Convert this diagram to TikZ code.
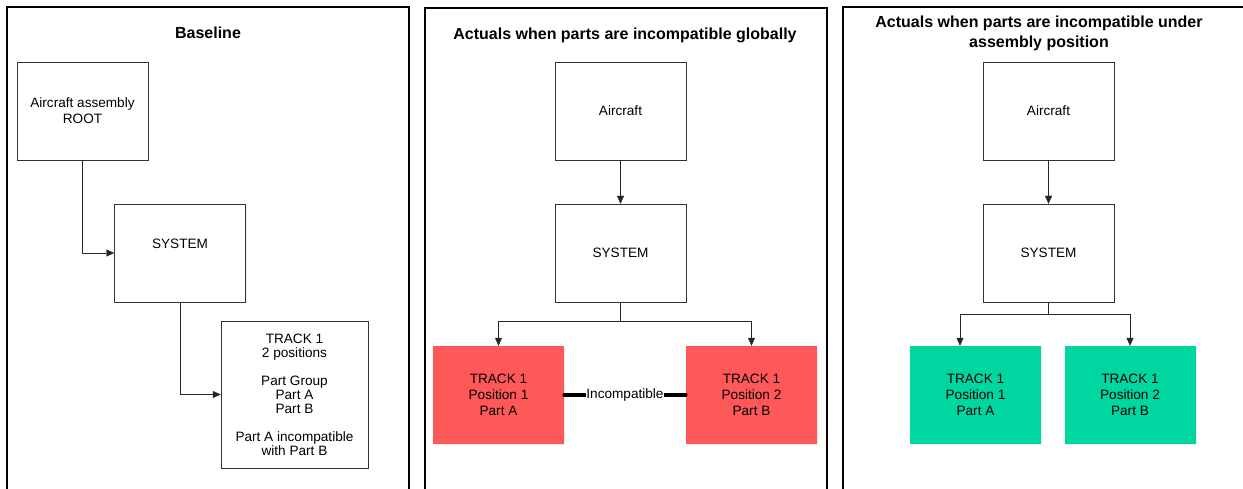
\documentclass[tikz,border=0pt]{standalone}
\usepackage{fontspec}
\setmainfont{Liberation Sans}
\usetikzlibrary{arrows.meta,positioning,calc,shadows}
\definecolor{badred}{RGB}{255,88,88}
\definecolor{goodgreen}{RGB}{0,214,159}
\tikzset{
    panel/.style = {
        draw,
        line width=2pt,
        },
    title/.style = {
        font=\bfseries\fontsize{16}{20}\selectfont,
        align=center,
        },
    box/.style = {
        draw=black!80,
        fill=white,
        minimum width=131pt,
        minimum height=98pt,
        align=center,
        font=\fontsize{13.6}{16}\selectfont,
        drop shadow={shadow xshift=1pt, shadow yshift=-1pt, opacity=0.15},
        },
    bad part/.style = {
        box,
        draw=none,
        fill=badred,
        },
    good part/.style = {
        box,
        draw=none,
        fill=goodgreen,
        },
    link/.style = {
        draw=black!85,
        -{Triangle[length=8pt,width=7pt]},
        },
    incompat/.style = {
        draw,
        line width=3.5pt,
        line cap=round,
        },
}
\begin{document}
\begin{tikzpicture}[x=1pt,y=-1pt]
    \useasboundingbox (0,0) rectangle (1243,489);
    % frames
    \draw[panel] (7,500) |- (409,7.5) -- (409,500);
    \draw[panel] (425,500) |- (827,8) -- (827,500);
    \draw[panel] (843,500) |- (1260,7);

    % baseline
    \node[title] (t1) at (208,33) {Baseline};
    \node[box] (root1) at (82.5,111) {Aircraft assembly\\ROOT};
    \node[box, text depth=18pt] (sys1) at (180,253) {SYSTEM};
    \node[box, minimum width=147pt, minimum height=147pt,
          font=\fontsize{13.6}{14}\selectfont] (track1) at (294.5,394.5)
        {TRACK 1\\2 positions\\[14pt]Part Group\\Part A\\Part B\\[14pt]Part A incompatible\\with Part B};

    \path[link] (root1.south) |- (sys1.west);
    \path[link] (sys1.south) |- (track1.west);

    % globally
    \node[title] (t2) at (625,35) {Actuals when parts are incompatible globally};
    \node[box] (air2) at (620.5,111) {Aircraft};
    \node[box] (sys2) at (620.5,253) {SYSTEM};
    \node[bad part] (a2) at (498.5,395) {TRACK 1\\Position 1\\Part A};
    \node[bad part] (b2) at (751.5,395) {TRACK 1\\Position 2\\Part B};
    \coordinate (j2) at ([yshift=-19pt]sys2.south);

    \path[link] (air2) -- (sys2);
    \path[link] (sys2.south) -- (j2) -| (a2.north);
    \path[link] (j2) -| (b2.north);
    \path[incompat] (a2) -- node[fill=white, inner sep=0.5pt, font=\fontsize{13.6}{16}\selectfont] {Incompatible} (b2);

    % under assembly position
    \node[title] (t3) at (1039,33.5) {Actuals when parts are incompatible under\\assembly position};
    \node[box] (air3) at (1048.5,111) {Aircraft};
    \node[box] (sys3) at (1048.5,253) {SYSTEM};
    \node[good part] (a3) at (975.5,395) {TRACK 1\\Position 1\\Part A};
    \node[good part] (b3) at (1130,395) {TRACK 1\\Position 2\\Part B};
    \coordinate (j3) at ([yshift=-12pt]sys3.south);

    \path[link] (air3) -- (sys3);
    \path[link] (sys3.south) -- (j3) -| ([xshift=-15.5pt]a3.north);
    \path[link] (j3) -| (b3.north);
\end{tikzpicture}
\end{document}
